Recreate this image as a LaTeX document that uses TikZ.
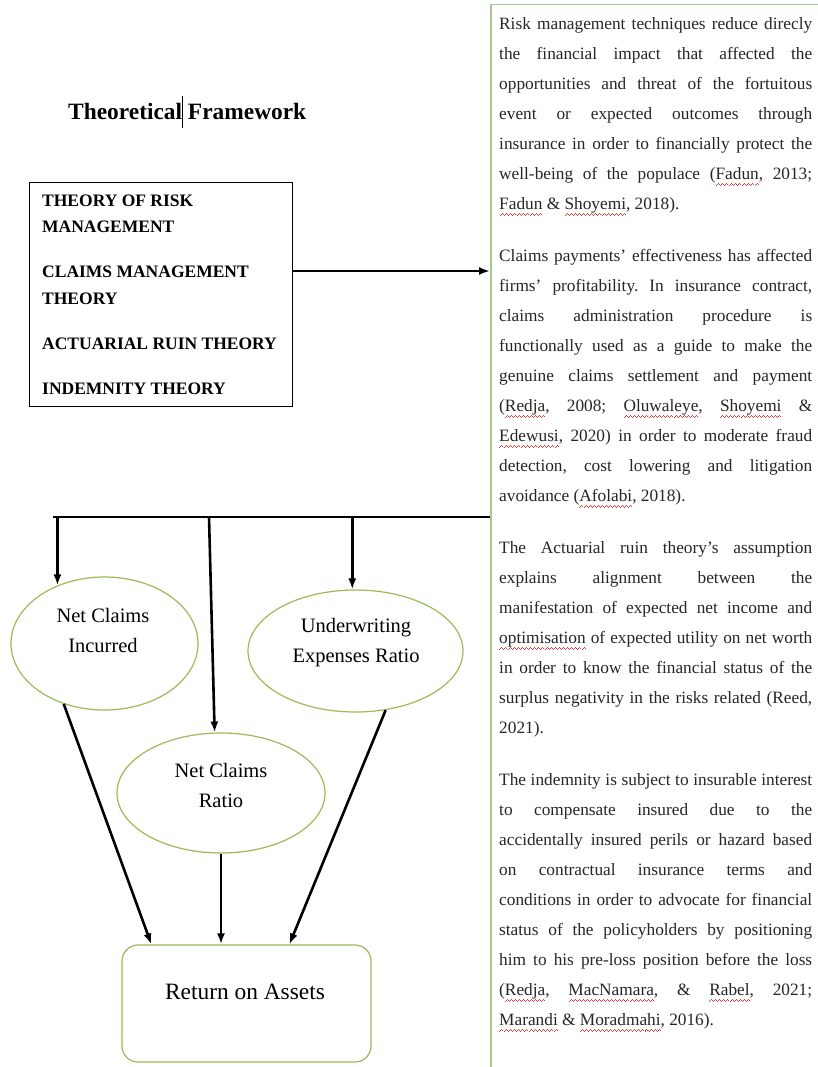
\documentclass[tikz,border=0pt]{standalone}
\usepackage{fontspec}
\setmainfont{Liberation Serif}
\usetikzlibrary{shapes.geometric,arrows.meta,calc}
\definecolor{shapegreen}{RGB}{155,187,89}
\definecolor{boxgreen}{RGB}{165,200,145}
\definecolor{sqred}{RGB}{220,60,60}
\newsavebox\sqbox
\newcommand\wavebit{\rule[-6.6pt]{1pt}{0.9pt}\rule[-5.6pt]{1pt}{0.9pt}\rule[-4.6pt]{1pt}{0.9pt}\rule[-5.6pt]{1pt}{0.9pt}}
\newcommand\sq[1]{\sbox\sqbox{#1}\rlap{\smash{\color{sqred}\hbox to \wd\sqbox{\xleaders\hbox{\wavebit}\hfil}}}\usebox\sqbox}
\newcommand\jl[1]{\makebox[313pt][s]{#1}}
\frenchspacing
\begin{document}
\begin{tikzpicture}[x=1pt,y=-1pt,
  thickline/.style={line width=2.6pt, black},
  arr/.style={thickline, -{Latex[length=11pt,width=8pt]}},
  ell/.style={ellipse, draw=shapegreen, line width=1.2pt, inner sep=0pt, fill=white},
  etext/.style={align=center, font=\fontsize{20.5}{30}\selectfont, inner sep=0pt},
]
\useasboundingbox (0,0) rectangle (818,1067);
\clip (0,0) rectangle (818,1067);
\fill[white] (0,0) rectangle (818,1067);

% title
\node[anchor=base west, font=\bfseries\fontsize{23.4}{28}\selectfont, inner sep=0pt] (title) at (68,120)
  {Theoretical\rlap{\kern0.3pt\rule[-8pt]{1pt}{32pt}} Framework};

% left box
\node[draw, line width=1.4pt, minimum width=263pt, minimum height=224pt, anchor=north west, inner sep=0pt] (lbox) at (29,182) {};
\node[anchor=north west, inner sep=0pt, align=left, font=\bfseries\fontsize{17.5}{26.5}\selectfont] (ltext) at (42,190)
  {\rule{0pt}{16pt}THEORY OF RISK\\MANAGEMENT\\[18.5pt]CLAIMS MANAGEMENT\\THEORY\\[18.5pt]ACTUARIAL RUIN THEORY\\[18.5pt]INDEMNITY THEORY};

% right text box
\node[draw=boxgreen, line width=1.5pt, anchor=north west, minimum width=345pt, minimum height=1090pt, inner sep=0pt] (rbox) at (490,4) {};
\node[anchor=north west, inner sep=0pt, align=left, font=\fontsize{17.3}{30}\selectfont, text=black!85] (rtext) at (499,9) {%
\rule{0pt}{20pt}\jl{Risk management techniques reduce direcly}\\
\jl{the financial impact that affected the}\\
\jl{opportunities and threat of the fortuitous}\\
\jl{event or expected outcomes through}\\
\jl{insurance in order to financially protect the}\\
\jl{well-being of the populace (\sq{Fadun}, 2013;}\\
\sq{Fadun} \& \sq{Shoyemi}, 2018).\\[22pt]
\jl{Claims payments’ effectiveness has affected}\\
\jl{firms’ profitability. In insurance contract,}\\
\jl{claims administration procedure is}\\
\jl{functionally used as a guide to make the}\\
\jl{genuine claims settlement and payment}\\
\jl{(\sq{Redja}, 2008; \sq{Oluwaleye}, \sq{Shoyemi} \&}\\
\jl{\sq{Edewusi}, 2020) in order to moderate fraud}\\
\jl{detection, cost lowering and litigation}\\
avoidance (\sq{Afolabi}, 2018).\\[22pt]
\jl{The Actuarial ruin theory’s assumption}\\
\jl{explains alignment between the}\\
\jl{manifestation of expected net income and}\\
\jl{\sq{optimisation} of expected utility on net worth}\\
\jl{in order to know the financial status of the}\\
\jl{surplus negativity in the risks related (Reed,}\\
2021).\\[22pt]
\jl{The indemnity is subject to insurable interest}\\
\jl{to compensate insured due to the}\\
\jl{accidentally insured perils or hazard based}\\
\jl{on contractual insurance terms and}\\
\jl{conditions in order to advocate for financial}\\
\jl{status of the policyholders by positioning}\\
\jl{him to his pre-loss position before the loss}\\
\jl{(\sq{Redja}, \sq{MacNamara}, \& \sq{Rabel}, 2021;}\\
\sq{Marandi} \& \sq{Moradmahi}, 2016).};

% ellipses
\node[ell, minimum width=187pt, minimum height=133pt] (nci) at (104.5,643.5) {};
\node[etext] (ncit) at (103,630) {Net Claims\\Incurred};
\node[ell, minimum width=215pt, minimum height=122pt] (uer) at (355.5,651) {};
\node[etext] (uert) at (356,643) {Underwriting\\Expenses Ratio};
\node[ell, minimum width=208pt, minimum height=120pt] (ncr) at (221,793) {};
\node[etext] (ncrt) at (221,785) {Net Claims\\Ratio};

% return box
\node[draw=shapegreen, line width=1.2pt, rounded corners=16pt, minimum width=249pt, minimum height=117pt, inner sep=0pt] (ret) at (246.5,1003.5) {};
\node[font=\fontsize{23.4}{28}\selectfont, inner sep=0pt] (rett) at (245,992) {Return on Assets};

% connectors
\coordinate (ay) at (0,271);
\draw[arr] (lbox.east |- ay) -- (rbox.west |- ay);
\coordinate (hy) at (53,517);
\coordinate (my) at (209,517);
\draw[thickline] (hy) -- (rbox.west |- hy);
\draw[arr] (nci.129 |- hy) -- (nci.129);
\draw[arr] (uer.93 |- hy) -- (uer.93);
\draw[arr] (my) -- (ncr.96);
\draw[arr] (nci.236) -- ($(ret.north west)+(30,0)$);
\draw[arr] (ncr.south) -- (ncr.south |- ret.north);
\draw[arr] (uer.297) -- ($(ret.north west)+(168,0)$);
\end{tikzpicture}
\end{document}
